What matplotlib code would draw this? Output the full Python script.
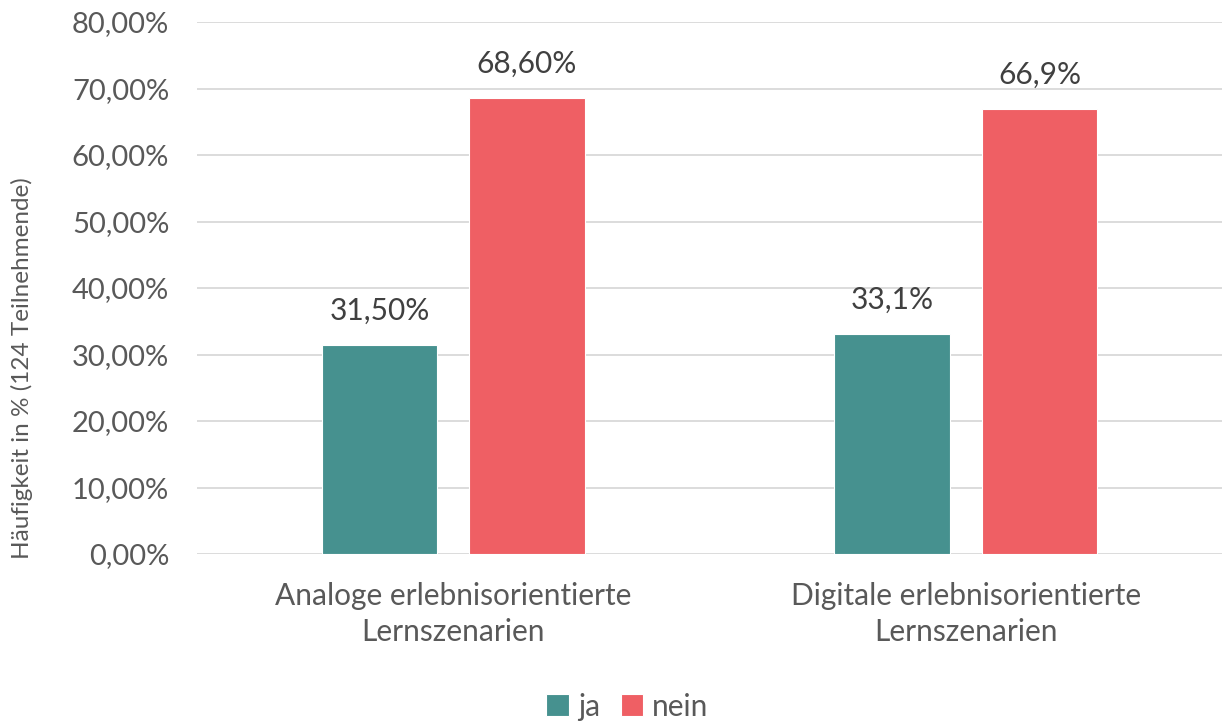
import numpy as np
import matplotlib.pyplot as plt

plt.rcParams['font.family'] = ['Lato', 'DejaVu Sans']

categories = ["Analoge erlebnisorientierte\nLernszenarien", "Digitale erlebnisorientierte\nLernszenarien"]
ja = [31.5, 33.1]
nein = [68.6, 66.9]
ja_labels = ["31,50%", "33,1%"]
nein_labels = ["68,60%", "66,9%"]
yticks = [0, 10, 20, 30, 40, 50, 60, 70, 80]

TXT = "#595959"
C_JA = "#46918F"
C_NEIN = "#EF5F64"

fig = plt.figure(figsize=(12.26, 7.24), dpi=100)
ax = fig.add_axes([197/1226, 1 - 554/724, 1025/1226, 532/724])

x = np.arange(len(categories))
w = 0.225
off = 0.144
b1 = ax.bar(x - off, ja, w, color=C_JA, edgecolor="white", linewidth=0.8, label="ja", zorder=3)
b2 = ax.bar(x + off, nein, w, color=C_NEIN, edgecolor="white", linewidth=0.8, label="nein", zorder=3)

for rect, lab in zip(b1, ja_labels):
    ax.text(rect.get_x() + rect.get_width()/2, rect.get_height() + 3.0, lab,
            ha="center", va="bottom", fontsize=21.5, color="#404040")
for rect, lab in zip(b2, nein_labels):
    ax.text(rect.get_x() + rect.get_width()/2, rect.get_height() + 3.0, lab,
            ha="center", va="bottom", fontsize=21.5, color="#404040")

ax.set_xlim(-0.5, 1.5)
ax.set_ylim(0, 80)
ax.set_yticks(yticks)
ax.set_yticklabels([f"{v:.2f}%".replace(".", ",") for v in yticks])
ax.set_xticks(x)
ax.set_xticklabels(categories, linespacing=1.35)
ax.tick_params(axis="y", length=0, pad=20, labelsize=21, labelcolor=TXT)
ax.tick_params(axis="x", length=0, pad=20, labelsize=21.5, labelcolor=TXT)
ax.grid(axis="y", color="#D9D9D9", linewidth=1.3, zorder=0)
for s in ax.spines.values():
    s.set_visible(False)

fig.text(22/1226, 1 - 368/724, "Häufigkeit in % (124 Teilnehmende)", rotation=90,
         ha="center", va="center", fontsize=17.5, color=TXT)

ax.legend(loc="center", bbox_to_anchor=(0.42, -0.287), ncol=2, frameon=False,
          fontsize=21.5, labelcolor=TXT, handlelength=0.75, handleheight=0.75,
          handletextpad=0.3, columnspacing=0.7)

fig.savefig("out.png", dpi=100)
